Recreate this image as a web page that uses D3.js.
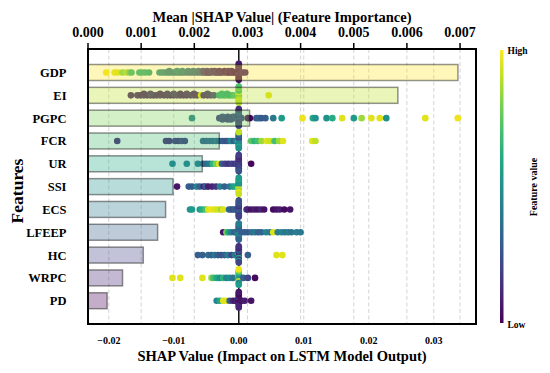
<!DOCTYPE html>
<html><head><meta charset="utf-8">
<script src="https://cdn.jsdelivr.net/npm/d3@7"></script>
<style>
body{margin:0;background:#fff}
text{font-family:"Liberation Serif","Times New Roman",serif;font-weight:bold;fill:#000}
</style>
</head><body><svg id="c" width="550" height="373"></svg>
<script>
// ---------- data ----------
const features = ["GDP","EI","PGPC","FCR","UR","SSI","ECS","LFEEP","HC","WRPC","PD"];
const meanAbsShap = [0.00696,0.00583,0.00304,0.00247,0.00215,0.00160,0.00146,0.00131,0.00104,0.00065,0.00036];
const topTicks = [0,0.001,0.002,0.003,0.004,0.005,0.006,0.007];
const bottomTicks = [-0.02,-0.01,0,0.01,0.02,0.03];

// [shap value, normalized feature value]
const ptsGDP = [[-0.0204,0.97],[-0.0191,0.95],[-0.0186,0.93],[-0.0179,0.8],[-0.0173,0.85],[-0.0168,0.75],[-0.0165,0.65],[-0.0153,0.62],[-0.0149,0.6],[-0.0144,0.6],[-0.0138,0.58],
[-0.0122,0.5],[-0.0118,0.45],[-0.0114,0.48],[-0.0110,0.42],[-0.0107,0.45],[-0.0103,0.4],[-0.0099,0.42],[-0.0095,0.38],[-0.0091,0.4],[-0.0087,0.35],[-0.0083,0.38],[-0.0078,0.32],[-0.0074,0.35],[-0.0070,0.3],[-0.0066,0.33],[-0.0062,0.28],[-0.0058,0.3],
[-0.0107,0.4],[-0.0095,0.45],[-0.0087,0.42],[-0.0078,0.38],[-0.0070,0.35],[-0.0062,0.32],[-0.0055,0.25],[-0.0049,0.2],[-0.0042,0.12],[-0.0037,0.18],[-0.0030,0.1],[-0.0022,0.12],[-0.0016,0.08],[-0.0011,0.1],
[-0.0055,0.2],[-0.0052,0.15],[-0.0049,0.18],[-0.0047,0.1],[-0.0045,0.12],[-0.0042,0.15],[-0.0037,0.1],[-0.0035,0.15],[-0.0033,0.12],[-0.0030,0.08],[-0.0028,0.1],[-0.0026,0.1],[-0.0022,0.06],[-0.0018,0.08],[-0.0016,0.12],[-0.0014,0.05],[-0.0011,0.07],[-0.0009,0.08],[-0.0007,0.05],[-0.0004,0.04],
[0,0.05],[0,0.08],[0,0.1],[0,0.03],[0,0.12],[0,0.06],[0,0.09],[0,0.07],[0,0.04],[0,0.11],[0,0.05],[0,0.08],
[0.0003,0.06],[0.0006,0.1],[0.0010,0.08]];
const ptsEI = [[-0.0166,0.1],[-0.0156,0.12],[-0.0151,0.08],[-0.0146,0.15],[-0.0141,0.1],[-0.0136,0.12],[-0.0131,0.08],[-0.0126,0.1],[-0.0121,0.15],[-0.0115,0.1],[-0.0110,0.12],[-0.0105,0.08],[-0.0100,0.1],[-0.0095,0.15],[-0.0090,0.12],[-0.0085,0.1],[-0.0080,0.08],[-0.0074,0.12],[-0.0069,0.15],[-0.0064,0.1],[-0.0058,0.95],[-0.0054,0.12],[-0.0048,0.1],[-0.0043,0.15],[-0.0038,0.2],[-0.0030,0.6],[-0.0026,0.65],[-0.0022,0.62],[-0.0018,0.68],[-0.0014,0.6],[-0.0010,0.65],[-0.0006,0.7],
[-0.0146,0.1],[-0.0136,0.15],[-0.0121,0.1],[-0.0110,0.12],[-0.0100,0.15],[-0.0090,0.1],[-0.0080,0.12],[-0.0069,0.1],[-0.0048,0.15],[-0.0026,0.62],[-0.0018,0.6],
[0,0.85],[0,0.9],[0,0.7],[0,0.95],[0,0.8],[0,0.75],[0,0.9],[0,0.65],[0,0.92],[0,0.78],[0,0.88],[0,0.72],
[0.0046,0.95]];
const ptsPGPC = [[-0.0072,0.45],[-0.0030,0.2],[-0.0027,0.15],[-0.0025,0.22],[-0.0022,0.18],[-0.0020,0.25],[-0.0017,0.2],[-0.0014,0.15],[-0.0012,0.22],[-0.0009,0.18],[-0.0006,0.2],[-0.0004,0.25],[-0.0002,0.15],
[-0.0025,0.2],[-0.0017,0.18],[-0.0012,0.2],[-0.0006,0.22],
[0,0.2],[0,0.15],[0,0.25],[0,0.1],[0,0.3],[0,0.2],[0,0.18],[0,0.22],[0,0.12],[0,0.28],[0,0.16],[0,0.24],[0,0.2],[0,0.14],
[0.0004,0.2],[0.0014,0.05],[0.0017,0.02],[0.0027,0.3],[0.0031,0.32],[0.0035,0.28],[0.0041,0.3],[0.0053,0.4],[0.0066,0.55],[0.0098,0.97],[0.0114,0.6],[0.0118,0.5],[0.0135,0.5],[0.0144,0.62],[0.0159,0.95],[0.0177,0.55],[0.0189,0.85],[0.0204,0.95],[0.0217,0.95],[0.0227,0.5],[0.0287,0.95],[0.0337,0.97]];
const ptsFCR = [[-0.0187,0.1],[-0.0112,0.12],[-0.0107,0.1],[-0.0098,0.15],[-0.0093,0.12],[-0.0088,0.18],[-0.0083,0.15],[-0.0055,0.3],[-0.0050,0.28],[-0.0045,0.32],[-0.0040,0.3],[-0.0035,0.35],[-0.0030,0.28],[-0.0025,0.3],[-0.0020,0.25],[-0.0016,0.3],[-0.0012,0.5],[-0.0008,0.3],[-0.0004,0.45],
[0,0.95],[0,0.3],[0,0.55],[0,0.25],[0,0.5],[0,0.28],[0,0.45],[0,0.3],[0,0.6],[0,0.35],[0,0.5],[0,0.9],
[0.0019,0.75],[0.0024,0.65],[0.0029,0.7],[0.0035,0.85],[0.0043,0.95],[0.0048,0.92],[0.0055,0.7],[0.0062,0.85],[0.0068,0.95],[0.0113,0.95],[0.0118,0.9]];
const ptsUR = [[-0.0102,0.45],[-0.0080,0.45],[-0.0063,0.45],[-0.0055,0.3],[-0.0050,0.35],[-0.0045,0.4],[-0.0040,0.65],[-0.0035,0.8],[-0.0030,0.95],[-0.0026,0.3],[-0.0021,0.2],[-0.0016,0.15],[-0.0011,0.2],[-0.0006,0.15],[-0.0003,0.2],
[0,0.15],[0,0.2],[0,0.1],[0,0.25],[0,0.18],[0,0.12],[0,0.22],[0,0.15],[0,0.2],[0,0.1],[0,0.25],[0,0.18],
[0.0019,0.02]];
const ptsSSI = [[-0.0095,0.05],[-0.0077,0.3],[-0.0072,0.28],[-0.0065,0.45],[-0.0060,0.3],[-0.0054,0.1],[-0.0051,0.3],[-0.0047,0.08],[-0.0041,0.1],[-0.0035,0.15],[-0.0029,0.45],[-0.0022,0.3],[-0.0014,0.4],[-0.0009,0.55],[-0.0005,0.6],
[0,0.75],[0,0.5],[0,0.95],[0,0.45],[0,0.9],[0,0.55],[0,0.85],[0,0.5],[0,0.97],[0,0.6],[0,0.92],[0,0.55]];
const ptsECS = [[-0.0075,0.5],[-0.0072,0.55],[-0.0060,0.55],[-0.0056,0.62],[-0.0051,0.7],[-0.0047,0.95],[-0.0042,0.97],[-0.0037,0.95],[-0.0032,0.93],[-0.0027,0.85],[-0.0024,0.95],[-0.0015,0.35],[-0.0012,0.3],[-0.0009,0.25],[-0.0006,0.3],[-0.0003,0.25],
[0,0.25],[0,0.2],[0,0.3],[0,0.15],[0,0.25],[0,0.2],[0,0.3],[0,0.22],[0,0.18],[0,0.28],[0,0.2],[0,0.25],
[0.0012,0.15],[0.0014,0.1],[0.0019,0.05],[0.0024,0.08],[0.0029,0.05],[0.0034,0.1],[0.0039,0.05],[0.0053,0.03],[0.0058,0.05],[0.0063,0.08],[0.0070,0.03],[0.0079,0.05]];
const ptsLFEEP = [[-0.0024,0.05],[-0.0019,0.8],[-0.0016,0.6],[-0.0012,0.45],[-0.0007,0.3],[-0.0004,0.35],
[0,0.4],[0,0.35],[0,0.45],[0,0.3],[0,0.5],[0,0.35],[0,0.4],[0,0.3],[0,0.45],[0,0.38],[0,0.32],[0,0.42],
[0.0004,0.3],[0.0009,0.3],[0.0014,0.28],[0.0020,0.35],[0.0025,0.4],[0.0030,0.3],[0.0035,0.32],[0.0042,0.45],[0.0048,0.4],[0.0053,0.95],[0.0060,0.42],[0.0066,0.45],[0.0071,0.4],[0.0076,0.42],[0.0081,0.38],[0.0089,0.42],[0.0095,0.4]];
const ptsHC = [[-0.0063,0.3],[-0.0056,0.3],[-0.0047,0.35],[-0.0042,0.3],[-0.0037,0.4],[-0.0032,0.3],[-0.0027,0.25],[-0.0022,0.3],[-0.0017,0.42],[-0.0011,0.2],[-0.0006,0.4],
[0,0.15],[0,0.95],[0,0.2],[0,0.1],[0,0.6],[0,0.25],[0,0.15],[0,0.2],[0,0.55],[0,0.1],[0,0.2],[0,0.15],
[0.0014,0.3],[0.0058,0.95],[0.0067,0.95]];
const ptsWRPC = [[-0.0102,0.95],[-0.0090,0.95],[-0.0056,0.95],[-0.0042,0.85],[-0.0039,0.7],[-0.0034,0.6],[-0.0029,0.5],[-0.0024,0.65],[-0.0019,0.45],[-0.0014,0.5],[-0.0009,0.4],
[0,0.7],[0,0.95],[0,0.6],[0,0.5],[0,0.9],[0,0.65],[0,0.45],[0,0.8],[0,0.55],[0,0.97],
[0.0007,0.3],[0.0014,0.2],[0.0025,0.02]];
const ptsPD = [[-0.0034,0.45],[-0.0029,0.6],[-0.0024,0.95],[-0.0019,0.95],[-0.0014,0.3],[-0.0009,0.1],[-0.0005,0.05],[-0.0003,0.1],
[0,0.05],[0,0.1],[0,0.02],[0,0.15],[0,0.08],[0,0.05],[0,0.12],[0,0.03],[0,0.1],[0,0.06],
[0.0003,0.05],[0.0004,0.05],[0.0009,0.08],[0.0019,0.05]];
const allPoints = [ptsGDP,ptsEI,ptsPGPC,ptsFCR,ptsUR,ptsSSI,ptsECS,ptsLFEEP,ptsHC,ptsWRPC,ptsPD];

// ---------- layout ----------
const L=88, R=476, T=49, B=324;
const svg = d3.select("#c");
const x = d3.scaleLinear().domain([-0.0232,0.0365]).range([L,R]);
const xTop = d3.scaleLinear().domain([0,0.0073]).range([L,R]);
const y = d3.scaleLinear().domain([-1.03,11.02]).range([T,B]);
const color = t => d3.interpolateViridis(t);

const defs = svg.append("defs");
defs.append("clipPath").attr("id","clip")
  .append("rect").attr("x",L).attr("y",T).attr("width",R-L).attr("height",B-T);

// gridlines
const grid = svg.append("g").attr("stroke","#cfcfcf").attr("stroke-width",0.9).attr("stroke-dasharray","4,2.5");
grid.selectAll("line.b").data(bottomTicks).join("line").attr("class","b")
  .attr("x1",d=>x(d)).attr("x2",d=>x(d)).attr("y1",T).attr("y2",B);
grid.selectAll("line.t").data(topTicks.filter(d=>d>0)).join("line").attr("class","t")
  .attr("x1",d=>xTop(d)).attr("x2",d=>xTop(d)).attr("y1",T).attr("y2",B);

// zero line
svg.append("line").attr("x1",x(0)).attr("x2",x(0)).attr("y1",T).attr("y2",B)
  .attr("stroke","#111").attr("stroke-width",1.5);

// beeswarm offsets (shap style)
const rowHeight = 0.5;
function swarm(pts){
  const vals = pts.map(p=>p[0]);
  const mn = d3.min(vals), mx = d3.max(vals), nb = 100;
  const q = vals.map(v=>Math.round(nb*(v-mn)/(mx-mn)));
  const inds = d3.range(pts.length).sort((a,b)=>q[a]-q[b]||a-b);
  const ys = new Array(pts.length).fill(0);
  let layer=0,last=null;
  for(const i of inds){
    if(q[i]!==last) layer=0;
    ys[i] = Math.ceil(layer/2)*((layer%2)*2-1);
    layer++; last=q[i];
  }
  const m = d3.max(ys.map(v=>v+1));
  return ys.map(v=>v*0.9*rowHeight/m);
}

const dots = svg.append("g").attr("clip-path","url(#clip)");
allPoints.forEach((pts,i)=>{
  const off = swarm(pts);
  dots.selectAll(null).data(pts).join("circle")
    .attr("cx",d=>x(d[0]))
    .attr("cy",(d,j)=>y(i-off[j]))
    .attr("r",3.3)
    .attr("fill",d=>color(d[1]));
});

// bars (mean |SHAP|) drawn on top, translucent
const barH = 0.7;
svg.append("g").selectAll("rect").data(meanAbsShap).join("rect")
  .attr("x",xTop(0))
  .attr("y",(d,i)=>y(i-barH/2))
  .attr("width",d=>xTop(d)-xTop(0))
  .attr("height",y(barH)-y(0))
  .attr("fill",(d,i)=>color(1-i/10))
  .attr("fill-opacity",0.32)
  .attr("stroke","#000").attr("stroke-opacity",0.42).attr("stroke-width",1.5);

// frame
svg.append("rect").attr("x",L).attr("y",T).attr("width",R-L).attr("height",B-T)
  .attr("fill","none").attr("stroke","#000").attr("stroke-width",2);

// top axis
const topAxis = svg.append("g");
topAxis.selectAll("line").data(topTicks).join("line")
  .attr("x1",d=>xTop(d)).attr("x2",d=>xTop(d)).attr("y1",T-6).attr("y2",T)
  .attr("stroke","#000").attr("stroke-width",1.5);
topAxis.selectAll("text").data(topTicks).join("text")
  .attr("x",d=>xTop(d)).attr("y",37).attr("text-anchor","middle")
  .style("font-size","14px").text(d3.format(".3f"));
svg.append("text").attr("x",(L+R)/2).attr("y",21.5).attr("text-anchor","middle")
  .style("font-size","14.5px").text("Mean |SHAP Value| (Feature Importance)");

// bottom axis
svg.append("g").selectAll("text").data(bottomTicks).join("text")
  .attr("x",d=>x(d)).attr("y",343.5).attr("text-anchor","middle")
  .style("font-size","10px").text(d3.format(".2f"));
svg.append("text").attr("x",(L+R)/2).attr("y",361).attr("text-anchor","middle")
  .style("font-size","14.5px").text("SHAP Value (Impact on LSTM Model Output)");

// y labels
svg.append("g").selectAll("text").data(features).join("text")
  .attr("x",66.5).attr("y",(d,i)=>y(i)).attr("dy","0.36em").attr("text-anchor","end")
  .style("font-size","12.5px").text(d=>d);
svg.append("text").attr("transform","translate(23,191) rotate(-90)")
  .attr("text-anchor","middle").style("font-size","17.5px").text("Features");

// colorbar
const grad = defs.append("linearGradient").attr("id","vir")
  .attr("x1","0").attr("y1","1").attr("x2","0").attr("y2","0");
d3.range(0,1.0001,0.1).forEach(t=>grad.append("stop").attr("offset",t).attr("stop-color",color(t)));
svg.append("rect").attr("x",500).attr("y",50).attr("width",3.5).attr("height",273).attr("fill","url(#vir)");
svg.append("text").attr("x",507.5).attr("y",54).style("font-size","9.5px").text("High");
svg.append("text").attr("x",507.5).attr("y",328).style("font-size","9.5px").text("Low");
svg.append("text").attr("transform","translate(536.5,187) rotate(-90)").attr("text-anchor","middle")
  .style("font-size","10px").text("Feature value");
</script>
</body></html>
